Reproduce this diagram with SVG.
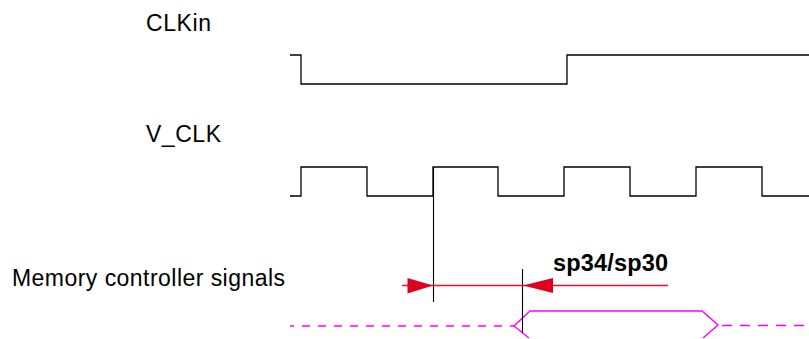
<svg xmlns="http://www.w3.org/2000/svg" width="809" height="339" viewBox="0 0 809 339">
<style>
.lbl{font-family:"Liberation Sans",Arial,sans-serif;font-size:23px;fill:#000}
.bold{font-weight:bold;font-size:23.5px}
.wave{fill:none;stroke:#000;stroke-width:1.3}
.mark{fill:none;stroke:#000;stroke-width:1.1}
.red{stroke:#ee1133;stroke-width:1.4;fill:none}
.head{fill:#dd0020}
.mag{fill:none;stroke:#ff00ff;stroke-width:1.4}
</style>
<rect width="809" height="339" fill="#fff"/>
<g id="clkin">
<text class="lbl" x="146" y="30.5" textLength="65">CLKin</text>
<polyline class="wave" points="290,55 301,55 301,84 567,84 567,55 809,55"/>
</g>
<g id="vclk">
<text class="lbl" x="146" y="141.5" textLength="75">V_CLK</text>
<polyline class="wave" points="290,196 301,196 301,167 367,167 367,196 433,196 433,167 498,167 498,196 564,196 564,167 630,167 630,196 696,196 696,167 762,167 762,196 809,196"/>
</g>
<g id="mem">
<text class="lbl" x="12" y="286" textLength="273">Memory controller signals</text>
<path class="mag" d="M290,326 H514" stroke-dasharray="8 8" stroke-dashoffset="4"/>
<polyline class="mag" points="529,338 514,326 530,311 702,311 718,325 703,338"/>
<path class="mag" d="M718,325.5 H809" stroke-dasharray="10 8" stroke-dashoffset="-4"/>
</g>
<g id="connectors">
<line class="mark" x1="433.5" y1="167" x2="433.5" y2="302"/>
<line class="mark" x1="522.5" y1="269" x2="522.5" y2="333"/>
<path class="red" d="M402,285.5 H668"/>
<polygon class="head" points="407.5,278 433,285.5 407.5,293.5"/>
<polygon class="head" points="553,278 523,285.5 553,293"/>
<text class="lbl bold" x="553" y="271" textLength="115">sp34/sp30</text>
</g>
</svg>
